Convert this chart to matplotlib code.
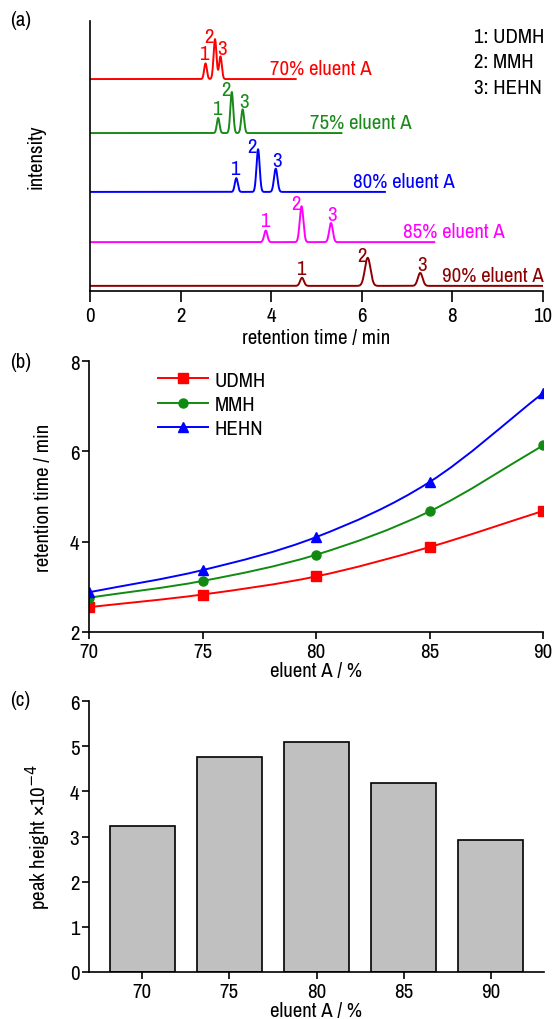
import numpy as np
import matplotlib
matplotlib.use("Agg")
import matplotlib.pyplot as plt
from matplotlib import font_manager
from matplotlib.path import Path
from matplotlib.patches import PathPatch
from matplotlib.lines import Line2D

names = {f.name for f in font_manager.fontManager.ttflist}
narrow = [n for n in ("Liberation Sans Narrow", "Archivo Narrow", "Roboto Condensed") if n in names]
plt.rcParams["font.family"] = narrow + ["DejaVu Sans"]

# ---- data -------------------------------------------------------------
eluent = [70, 75, 80, 85, 90]
compounds = ["UDMH", "MMH", "HEHN"]

# retention times (min)
rt_udmh = [2.55, 2.83, 3.23, 3.88, 4.68]
rt_mmh = [2.76, 3.13, 3.71, 4.67, 6.13]
rt_hehn = [2.88, 3.37, 4.10, 5.32, 7.29]

# peak heights of UDMH, panel (c), x1e-4
peak_height = [3.23, 4.75, 5.10, 4.18, 2.93]

# chromatograms, panel (a): relative peak heights and widths (min)
h_udmh = [0.058, 0.056, 0.051, 0.043, 0.030]
h_mmh = [0.148, 0.152, 0.158, 0.133, 0.104]
h_hehn = [0.084, 0.088, 0.086, 0.071, 0.048]
w_udmh = [0.030, 0.030, 0.033, 0.036, 0.042]
w_mmh = [0.032, 0.032, 0.035, 0.040, 0.062]
w_hehn = [0.030, 0.032, 0.038, 0.040, 0.052]
run_end = [4.54, 5.55, 6.51, 7.60, 10.0]
offset = [0.785, 0.585, 0.367, 0.181, 0.019]

trace_colors = ["#ff0000", "#1a8a1a", "#0000ff", "#ff00ff", "#8b0000"]
label_t = [3.97, 4.86, 5.81, 6.92, 7.76]

FS = 15
TFS = 15
LW = 1.4

fig = plt.figure(figsize=(5.54, 10.2), dpi=100)
W, H = 554.0, 1020.0


def add_axes(left, right, top, bottom):
    return fig.add_axes([left / W, 1 - bottom / H, (right - left) / W, (bottom - top) / H])


# ---- (a) chromatograms -------------------------------------------------
ax = add_axes(90, 543, 22, 292)
for i, pct in enumerate(eluent):
    t = np.linspace(0, run_end[i], 2000)
    y = np.full_like(t, offset[i])
    peaks = [(rt_udmh[i], h_udmh[i], w_udmh[i]),
             (rt_mmh[i], h_mmh[i], w_mmh[i]),
             (rt_hehn[i], h_hehn[i], w_hehn[i])]
    for c, h, s in peaks:
        y = y + h * np.exp(-0.5 * ((t - c) / s) ** 2)
    ax.plot(t, y, color=trace_colors[i], lw=LW)
    offs = [((-1, 3), "baseline"), ((-1, 2), "center"), ((1, 2), "baseline")]
    for k, (c, h, s) in enumerate(peaks):
        (dx, dy), va = offs[k]
        ax.annotate(str(k + 1), xy=(c, offset[i] + h), xytext=(dx, dy),
                    textcoords="offset points", ha="right" if k == 1 else "center",
                    va=va, color=trace_colors[i], fontsize=FS)
    ax.text(label_t[i], offset[i] + 0.018, f"{pct}% eluent A", color=trace_colors[i],
            fontsize=FS, ha="left", va="baseline")

for k, name in enumerate(compounds):
    ax.text(0.848, 0.944 - 0.095 * k, f"{k + 1}: {name}", transform=ax.transAxes,
            fontsize=FS, ha="left", va="center")

ax.set_xlim(0, 10)
ax.set_ylim(0, 1)
ax.set_xticks(range(0, 11, 2))
ax.set_yticks([])
ax.spines[["top", "right"]].set_visible(False)
ax.set_xlabel("retention time / min", fontsize=FS, labelpad=2)
ax.set_ylabel("intensity", fontsize=FS, labelpad=32)
ax.tick_params(axis="x", direction="out", length=8, width=1.2, labelsize=TFS, pad=3)

# ---- (b) retention time vs eluent --------------------------------------
ax = add_axes(89, 543, 362, 633)
series = [(rt_udmh, "#ff0000", "s"), (rt_mmh, "#108a10", "o"), (rt_hehn, "#0000ff", "^")]
handles = []
for (vals, col, mk), name in zip(series, compounds):
    x = np.array(eluent, float)
    yv = np.array(vals, float)
    # smooth Catmull-Rom style bezier through the measured points
    px = np.concatenate([[2 * x[0] - x[1]], x, [2 * x[-1] - x[-2]]])
    py = np.concatenate([[2 * yv[0] - yv[1]], yv, [2 * yv[-1] - yv[-2]]])
    verts = [(x[0], yv[0])]
    codes = [Path.MOVETO]
    for j in range(1, len(x)):
        p0 = np.array([px[j - 1], py[j - 1]])
        p1 = np.array([px[j], py[j]])
        p2 = np.array([px[j + 1], py[j + 1]])
        p3 = np.array([px[j + 2], py[j + 2]])
        verts += [tuple(p1 + (p2 - p0) / 6), tuple(p2 - (p3 - p1) / 6), tuple(p2)]
        codes += [Path.CURVE4] * 3
    ax.add_patch(PathPatch(Path(verts, codes), fill=False, edgecolor=col, lw=LW))
    ax.plot(eluent, vals, ls="none", marker=mk, color=col, ms=6.5)
    handles.append(Line2D([], [], color=col, marker=mk, ms=6.5, lw=LW, label=name))

ax.legend(handles=handles, loc="upper left", bbox_to_anchor=(0.125, 1.01), frameon=False,
          fontsize=FS, handlelength=2.4, handletextpad=0.3, labelspacing=0.25,
          borderaxespad=0.2)
ax.set_xlim(70, 90)
ax.set_ylim(2, 8)
ax.set_xticks(eluent)
ax.set_yticks([2, 4, 6, 8])
ax.spines[["top", "right"]].set_visible(False)
ax.set_xlabel("eluent A / %", fontsize=FS, labelpad=0)
ax.set_ylabel("retention time / min", fontsize=FS, labelpad=12)
ax.tick_params(direction="out", length=5, width=1.2, labelsize=TFS, pad=2)

# ---- (c) peak height bars ----------------------------------------------
ax = add_axes(89, 544, 702, 973)
pos = np.arange(len(eluent))
ax.bar(pos, peak_height, width=0.745, color="#c0c0c0", edgecolor="black", lw=1.2)
ax.set_xlim(-0.61, 4.61)
ax.set_ylim(0, 6)
ax.set_xticks(pos)
ax.set_xticklabels([str(e) for e in eluent])
ax.set_yticks(range(7))
ax.spines[["top", "right"]].set_visible(False)
ax.set_xlabel("eluent A / %", fontsize=FS, labelpad=0)
ax.set_ylabel("peak height \u00d710$^{-4}$", fontsize=FS, labelpad=12)
ax.tick_params(direction="out", length=5, width=1.2, labelsize=TFS, pad=2)

for axx in fig.axes:
    for sp in axx.spines.values():
        sp.set_linewidth(1.2)

for lab, yy in [("(a)", 20), ("(b)", 362), ("(c)", 700)]:
    fig.text(10 / W, 1 - yy / H, lab, fontsize=FS, ha="left", va="center")

fig.savefig("out.png", dpi=100)
